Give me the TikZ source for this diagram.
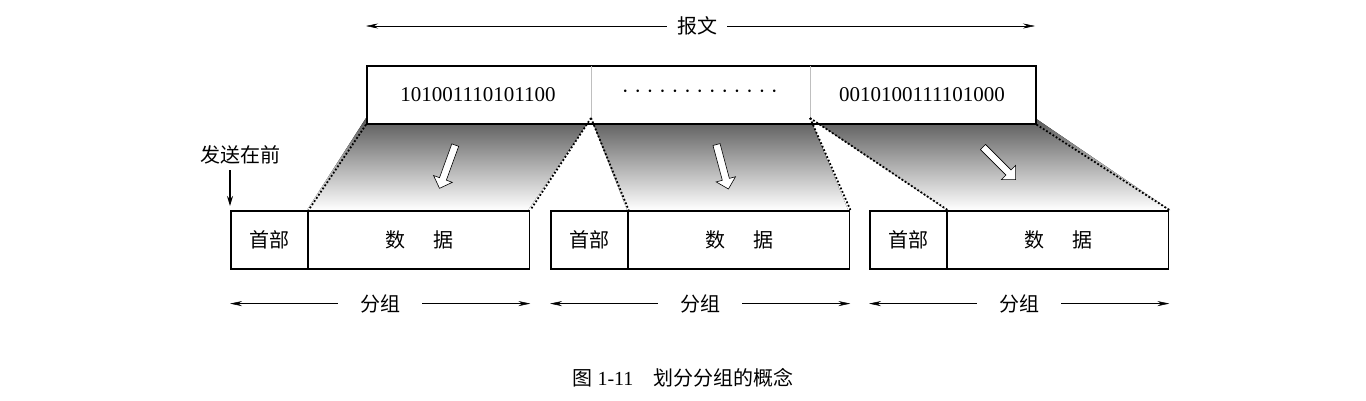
\documentclass[tikz,border=0pt]{standalone}
\usepackage{fontspec}
\setmainfont{Liberation Serif}
\newfontfamily\cjk{Noto Sans CJK SC}
\usetikzlibrary{positioning}
\usetikzlibrary{calc}
\usetikzlibrary{shapes.arrows}
\usetikzlibrary{arrows.meta}

\tikzset{
  cell/.style={draw, line width=1.6pt, minimum height=58pt, inner sep=0pt, font=\cjk\fontsize{20}{22}\selectfont},
  dim/.style={line width=0.5pt},
  tipl/.style={{Stealth[length=12pt,width=5pt]}-},
  tipr/.style={-{Stealth[length=12pt,width=5pt]}},
  fan/.style={top color=black!65, bottom color=white, draw=none},
  edge/.style={dotted, line width=1.8pt},
  hollow/.style={single arrow, draw, fill=white, line width=0.6pt, minimum height=46pt, minimum width=20pt, single arrow head extend=4pt, inner sep=2pt}
}

\begin{document}
\begin{tikzpicture}[x=1pt, y=-1pt]
				\useasboundingbox (0,0) rectangle (1366,400);
				
				% shaded fans from the message to the packets
				\fill[fan] (366,118) -- (591,118) -- (528,210) -- (307,210) -- cycle;
				\fill[fan] (591,118) -- (810,118) -- (848,210) -- (627,210) -- cycle;
				\fill[fan] (810,118) -- (1035,118) -- (1170,210) -- (947,210) -- cycle;
				
				\node[hollow, rotate=-110] (a1) at (448,165) {};
				\node[hollow, rotate=-75] (a2) at (722,165) {};
				\node[hollow, rotate=-45] (a3) at (998,162) {};
				
				% message
				\node[cell, minimum width=669pt, anchor=north west, fill=white] (msg) at (366,65) {};
				\coordinate (m1) at (591,118);
				\coordinate (m2) at (810,118);
				\draw[black!25, line width=0.6pt] (591,66) -- (m1);
				\draw[black!25, line width=0.6pt] (810,66) -- (m2);
				\node[font=\fontsize{21}{22}\selectfont] (bits1) at (478,95) {101001110101100};
				\node[font=\fontsize{21}{22}\selectfont] (bits2) at (922,95) {0010100111101000};
				\node[font=\fontsize{26}{26}\selectfont] (dots) at (700,92) {$\cdot\cdot\cdot\cdot\cdot\cdot\cdot\cdot\cdot\cdot\cdot\cdot\cdot$};
				
				\node[font=\cjk\fontsize{20}{22}\selectfont, inner xsep=10pt] (bw) at (697,26) {报文};
				\draw[dim, tipl] (366,26) -- (bw.west);
				\draw[dim, tipr] (bw.east) -- (1035,26);
				
				% packets
				\foreach \x/\n in {230/1, 550/2, 869/3} {
					\node[cell, minimum width=77pt, anchor=north west] (h\n) at (\x,210) {首部};
					\node[cell, minimum width=221pt, anchor=north west] (d\n) at ($(h\n.north east)+(-0.8pt,0)$) {数\hspace{1.4em}据};
					\node[font=\cjk\fontsize{20}{22}\selectfont, inner xsep=22pt] (g\n) at ($(h\n.south west)!0.5!(d\n.south east)+(0,34)$) {分组};
					\draw[dim, tipl] ($(h\n.south west)+(0,34)$) -- (g\n.west);
					\draw[dim, tipr] (g\n.east) -- ($(d\n.south east)+(0,34)$);
				}
				
				% dotted edges
				\draw[edge] (msg.south west) -- (h1.north east);
				\draw[edge] (m1) -- (d1.north east);
				\draw[edge] (m1) -- (h2.north east);
				\draw[edge] (m2) -- (d2.north east);
				\draw[edge] (m2) -- (h3.north east);
				\draw[edge] (msg.south east) -- (d3.north east);
				
				\node[font=\cjk\fontsize{20}{22}\selectfont] (first) at (240,155) {发送在前};
				\coordinate (fs) at (230,170);
				\draw[line width=1.4pt, -{Stealth[length=10pt,width=6pt]}] (fs) -- ($(h1.north west)+(0,-4)$);
				
				\node[font=\fontsize{20}{22}\selectfont] (cap) at (683,378) {{\cjk 图} 1-11\quad{\cjk 划分分组的概念}};
			\end{tikzpicture}
\end{document}
